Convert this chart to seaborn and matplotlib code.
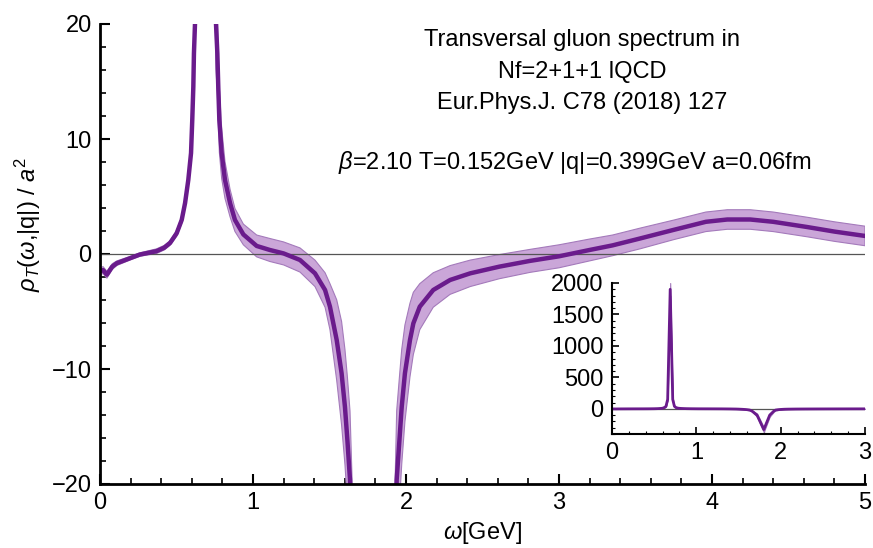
import matplotlib
matplotlib.use("Agg")
import matplotlib.pyplot as plt
import seaborn as sns
import numpy as np
from matplotlib.ticker import MultipleLocator

# spectral function (omega in GeV, rho_T / a^2)
omega = [0.00, 0.02, 0.045, 0.08, 0.11, 0.20, 0.26, 0.37, 0.42, 0.458, 0.501, 0.534,
         0.556, 0.577, 0.595, 0.603, 0.610, 0.614, 0.621, 0.64, 0.66, 0.69, 0.72, 0.74,
         0.758, 0.767, 0.773, 0.780, 0.795, 0.817, 0.85, 0.882, 0.937, 1.024, 1.11, 1.20,
         1.307, 1.405, 1.471, 1.503, 1.547, 1.579, 1.601, 1.617, 1.634, 1.66, 1.72, 1.80,
         1.87, 1.92, 1.939, 1.957, 1.972, 1.993, 2.026, 2.048, 2.09, 2.178, 2.288, 2.42,
         2.61, 2.81, 3.00, 3.20, 3.35, 3.53, 3.75, 3.96, 4.10, 4.25, 4.40, 4.62,
         4.80, 5.00]
rho = [-1.5, -1.4, -1.8, -1.1, -0.8, -0.35, -0.05, 0.25, 0.55, 0.96, 1.8, 2.96,
       4.43, 6.43, 8.78, 11.65, 14.55, 17.45, 20.06, 40.0, 150.0, 1900.0, 150.0, 40.0,
       20.06, 17.45, 14.55, 11.65, 8.78, 6.43, 4.43, 2.96, 1.7, 0.7, 0.35, 0.05,
       -0.52, -1.68, -3.13, -4.58, -7.48, -10.37, -13.3, -16.2, -19.65, -35.0, -100.0, -330.0,
       -100.0, -35.0, -19.65, -16.2, -13.3, -10.37, -7.48, -6.03, -4.58, -3.13, -2.26, -1.68,
       -1.1, -0.6, -0.2, 0.35, 0.75, 1.35, 2.1, 2.8, 3.0, 3.0, 2.8, 2.35,
       1.95, 1.57]
rho_err = [0.3, 0.3, 0.3, 0.25, 0.2, 0.15, 0.15, 0.2, 0.2, 0.2, 0.25, 0.3,
           0.35, 0.45, 0.6, 0.8, 1.0, 1.2, 1.4, 3.0, 15.0, 100.0, 20.0, 8.0,
           4.0, 3.5, 3.0, 2.8, 2.2, 1.6, 1.2, 1.0, 0.9, 0.95, 1.0, 1.0,
           1.05, 1.15, 1.5, 2.0, 3.5, 4.5, 5.0, 5.5, 6.0, 10.0, 25.0, 40.0,
           25.0, 10.0, 6.0, 5.5, 5.0, 4.2, 3.2, 2.7, 2.0, 1.5, 1.25, 1.15,
           1.05, 1.0, 1.0, 0.95, 0.9, 0.9, 0.85, 0.85, 0.85, 0.85, 0.85, 0.85,
           0.85, 0.85]

title_lines = ["Transversal gluon spectrum in", "Nf=2+1+1 lQCD", "Eur.Phys.J. C78 (2018) 127"]
params_line = r"$\beta$=2.10 T=0.152GeV |q|=0.399GeV a=0.06fm"

sns.set_style("ticks")
plt.rcParams["font.family"] = ["Liberation Sans", "DejaVu Sans"]
plt.rcParams["mathtext.fontset"] = "custom"
plt.rcParams["mathtext.rm"] = "Liberation Sans"
plt.rcParams["mathtext.it"] = "Liberation Sans:italic"
for k in ["text.color", "axes.labelcolor", "xtick.color", "ytick.color", "axes.edgecolor"]:
    plt.rcParams[k] = "black"

line_col = "#6a1b8c"
fill_col = "#caa6d8"
edge_col = "#a47abb"

lower = np.array(rho) - np.array(rho_err)
upper = np.array(rho) + np.array(rho_err)

W, H = 873, 548
fig = plt.figure(figsize=(W / 100, H / 100), dpi=100)
ax = fig.add_axes([100 / W, 1 - 484 / H, 765 / W, 460 / H])


def draw(a, lw):
    a.fill_between(omega, lower, upper, facecolor=fill_col, edgecolor=edge_col, lw=0.8, zorder=1)
    a.axhline(0, color="#555555", lw=0.9, zorder=1.5)
    sns.lineplot(x=omega, y=rho, ax=a, color=line_col, lw=lw, estimator=None, zorder=2)
    for s in ["top", "right"]:
        a.spines[s].set_visible(False)


draw(ax, 3.2)
ax.set_xlim(0, 5)
ax.set_ylim(-20, 20)
ax.set_xticks([0, 1, 2, 3, 4, 5])
ax.set_yticks([-20, -10, 0, 10, 20])
ax.xaxis.set_minor_locator(MultipleLocator(0.2))
ax.yaxis.set_minor_locator(MultipleLocator(2))
for s in ["left", "bottom"]:
    ax.spines[s].set_linewidth(2)
ax.tick_params(which="major", direction="in", length=7, width=1.5, labelsize=17, pad=6)
ax.tick_params(which="minor", direction="in", length=4, width=1.2)
ax.set_xlabel(r"$\omega$[GeV]", fontsize=17, labelpad=4)
ax.set_ylabel(r"$\rho_T(\omega$,|q|) / $a^2$", fontsize=17)
ax.yaxis.set_label_coords(-0.075, 0.565)

ys = [18.6, 15.8, 13.1]
for t, y in zip(title_lines, ys):
    ax.text(3.15, y, t, ha="center", va="center", fontsize=17)
ax.text(3.1, 8.0, params_line, ha="center", va="center", fontsize=17)

# inset with full range
ins = fig.add_axes([612 / W, 1 - 434 / H, 253 / W, 151 / H])
draw(ins, 2)
ins.set_xlim(0, 3)
ins.set_ylim(-400, 2000)
ins.set_xticks([0, 1, 2, 3])
ins.set_yticks([0, 500, 1000, 1500, 2000])
ins.xaxis.set_minor_locator(MultipleLocator(0.2))
ins.yaxis.set_minor_locator(MultipleLocator(100))
for s in ["left", "bottom"]:
    ins.spines[s].set_linewidth(1.5)
ins.tick_params(which="major", direction="in", length=5, width=1.2, labelsize=17, pad=6)
ins.tick_params(which="minor", direction="in", length=2.5, width=0.8)
ins.set_facecolor("none")

fig.savefig("out.png", dpi=100)
